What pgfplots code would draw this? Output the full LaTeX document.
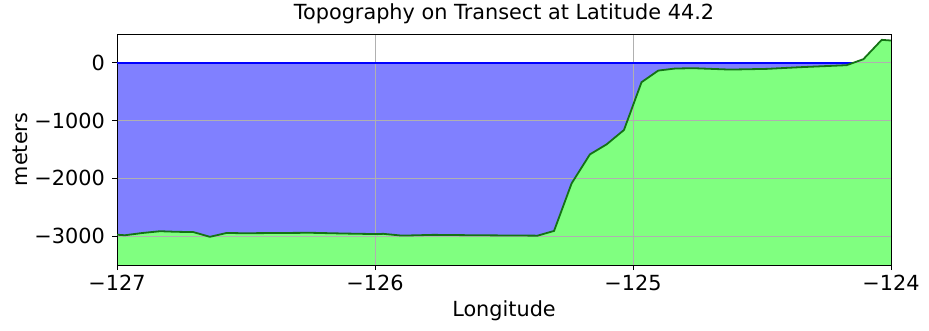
\documentclass[border=0pt]{standalone}
\usepackage{fontspec}
\setmainfont{DejaVu Sans}
\usepackage{pgfplots}
\pgfplotsset{compat=1.18}

\definecolor{seafill}{RGB}{128,128,255}
\definecolor{landfill}{RGB}{128,255,128}
\definecolor{landline}{RGB}{20,115,20}
\definecolor{gridgray}{RGB}{176,176,176}

\begin{document}
\begin{tikzpicture}
\begin{axis}[
  set layers,
  scale only axis,
  width=774pt, height=231pt,
  xmin=-127, xmax=-124, ymin=-3500, ymax=500,
  xtick={-127,-126,-125,-124},
  xticklabels={−127,−126,−125,−124},
  ytick={-3000,-2000,-1000,0},
  yticklabels={−3000,−2000,−1000,0},
  tick align=outside, major tick length=5pt,
  tick style={black, line width=0.8pt},
  xtick pos=bottom, ytick pos=left,
  tick label style={font=\fontsize{20.8}{25}\selectfont},
  xticklabel style={anchor=north, inner sep=0pt, yshift=-5pt},
  yticklabel style={anchor=east, inner sep=0pt, xshift=-7pt},
  grid=major, grid style={gridgray, line width=0.8pt},
  axis line style={black, line width=0.9pt},
  title={Topography on Transect at Latitude 44.2},
  title style={font=\fontsize{20.8}{25}\selectfont, at={(axis description cs:0.5,1.036)}, anchor=base, inner sep=0pt},
  xlabel={Longitude},
  xlabel style={font=\fontsize{20.8}{25}\selectfont, at={(axis description cs:0.5,-0.2238)}, anchor=base, inner sep=0pt},
  ylabel={meters},
  ylabel style={font=\fontsize{20.8}{25}\selectfont, at={(axis description cs:-0.1156,0.5)}, anchor=base, inner sep=0pt},
]
% sea: from sea level down to the bottom of the axis
\addplot[on layer=axis background, fill=seafill, draw=none] coordinates {
  (-127,0) (-124,0) (-124,-3500) (-127,-3500)
};
% sea level, up to where the coast rises above it
\addplot[blue, line width=1.6pt] coordinates {(-127,0) (-124.147,0)};
% land below the topography profile
\addplot[on layer=axis background, fill=landfill, draw=none] coordinates {
  (-127,-3500)
  (-127.0,-2975) (-126.97,-2985) (-126.90,-2945) (-126.833,-2915)
  (-126.77,-2925) (-126.704,-2930) (-126.64,-3012) (-126.575,-2945)
  (-126.51,-2950) (-126.25,-2942) (-126.12,-2955) (-125.99,-2965)
  (-125.968,-2960) (-125.903,-2988) (-125.864,-2988) (-125.774,-2978)
  (-125.606,-2985) (-125.37,-2992) (-125.306,-2910) (-125.238,-2087)
  (-125.167,-1584) (-125.102,-1410) (-125.035,-1162) (-124.967,-335)
  (-124.902,-133) (-124.837,-98) (-124.766,-92) (-124.624,-116)
  (-124.482,-104) (-124.353,-75) (-124.172,-40) (-124.107,64)
  (-124.036,399) (-124.0,387)
  (-124,-3500)
};
\addplot[landline, line width=1.8pt] coordinates {
  (-127.0,-2975) (-126.97,-2985) (-126.90,-2945) (-126.833,-2915)
  (-126.77,-2925) (-126.704,-2930) (-126.64,-3012) (-126.575,-2945)
  (-126.51,-2950) (-126.25,-2942) (-126.12,-2955) (-125.99,-2965)
  (-125.968,-2960) (-125.903,-2988) (-125.864,-2988) (-125.774,-2978)
  (-125.606,-2985) (-125.37,-2992) (-125.306,-2910) (-125.238,-2087)
  (-125.167,-1584) (-125.102,-1410) (-125.035,-1162) (-124.967,-335)
  (-124.902,-133) (-124.837,-98) (-124.766,-92) (-124.624,-116)
  (-124.482,-104) (-124.353,-75) (-124.172,-40) (-124.107,64)
  (-124.036,399) (-124.0,387)
};
\end{axis}
\path (-117pt,-65pt) rectangle (812pt,265pt);
\end{tikzpicture}
\end{document}
